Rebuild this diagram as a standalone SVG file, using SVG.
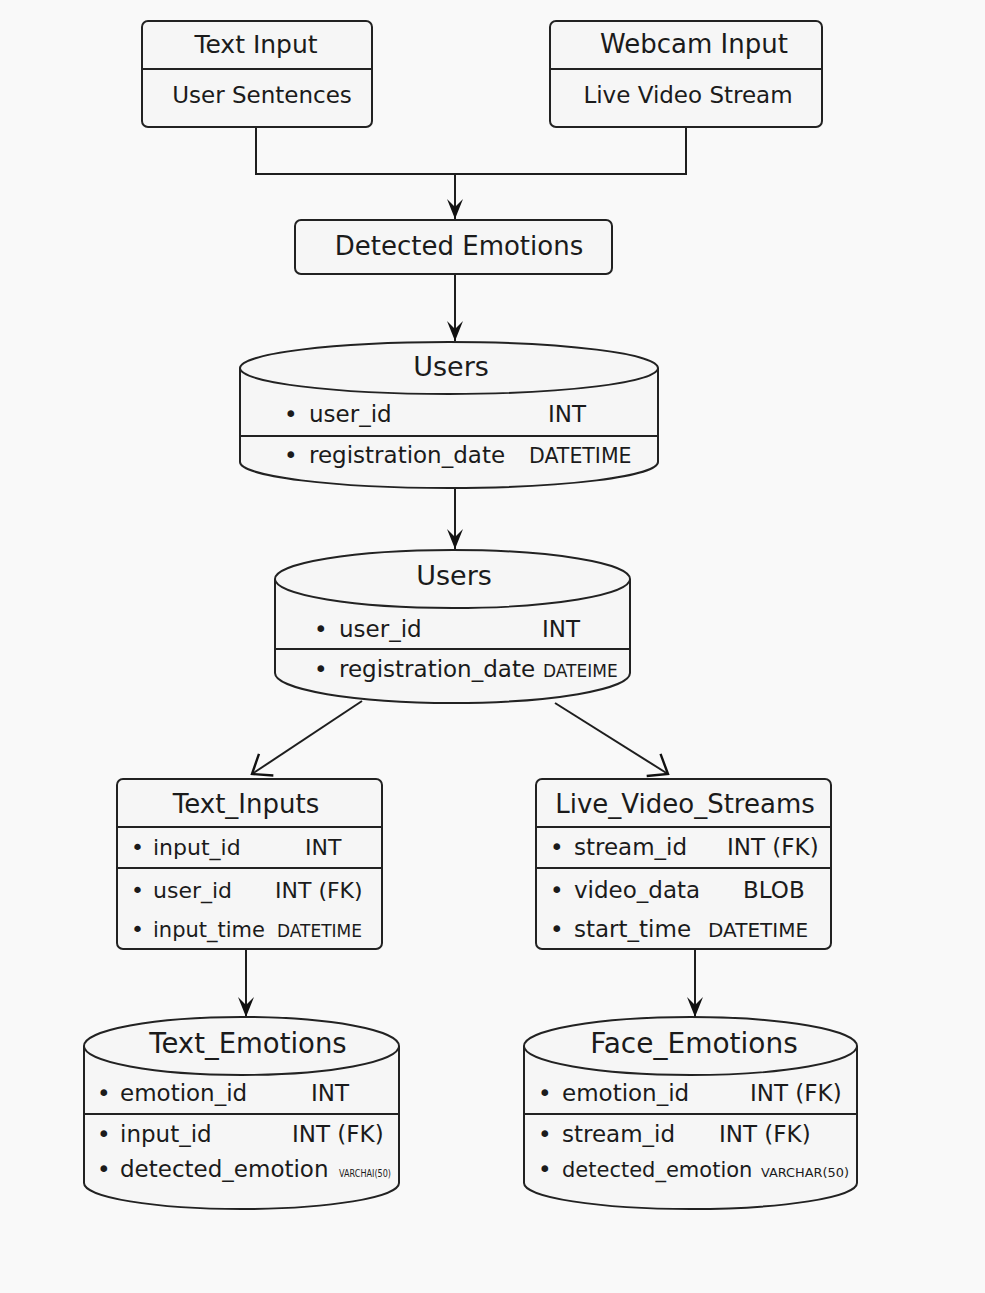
<svg xmlns="http://www.w3.org/2000/svg" width="985" height="1293" viewBox="0 0 985 1293">
  <defs>
    <style>
      text { font-family: "DejaVu Sans", "Liberation Sans", sans-serif; fill: #1b1b1b; }
      .box { fill: #f6f6f6; stroke: #222; stroke-width: 2; }
      .div { stroke: #222; stroke-width: 1.8; fill: none; }
      .edge { stroke: #1e1e1e; stroke-width: 2; fill: none; }
      .mid { text-anchor: middle; }
      .t26 { font-size: 26px; }
      .t23 { font-size: 23px; }
      .t22 { font-size: 22px; }
    </style>
    <!-- filled, notched head for the vertical flow arrows -->
    <marker id="head" viewBox="-22 -10 24 20" refX="0" refY="0" markerWidth="24" markerHeight="20" markerUnits="userSpaceOnUse" orient="auto">
      <path d="M0,0 L-20,-8 L-12,0 L-20,8 Z" fill="#111"/>
    </marker>
    <!-- open head for the diagonal relation arrows -->
    <marker id="open" viewBox="-22 -16 24 32" refX="0" refY="0" markerWidth="24" markerHeight="32" markerUnits="userSpaceOnUse" orient="auto">
      <path d="M-17,-13 L0,0 L-17,13" fill="none" stroke="#111" stroke-width="2.4"/>
    </marker>
  </defs>

  <rect x="0" y="0" width="985" height="1293" fill="#f9f9f9"/>

  <!-- connectors -->
  <g id="connectors">
    <polyline class="edge" points="256,127 256,174 686,174 686,127"/>
    <line class="edge" x1="455" y1="174" x2="455" y2="219" marker-end="url(#head)"/>
    <line class="edge" x1="455" y1="274" x2="455" y2="341" marker-end="url(#head)"/>
    <line class="edge" x1="455" y1="488" x2="455" y2="549" marker-end="url(#head)"/>
    <line class="edge" x1="362" y1="701" x2="252" y2="774" marker-end="url(#open)"/>
    <line class="edge" x1="555" y1="703" x2="668" y2="774" marker-end="url(#open)"/>
    <line class="edge" x1="246" y1="949" x2="246" y2="1017" marker-end="url(#head)"/>
    <line class="edge" x1="695" y1="949" x2="695" y2="1017" marker-end="url(#head)"/>
  </g>

  <!-- source boxes -->
  <g id="text-input">
    <rect class="box" x="142" y="21" width="230" height="106" rx="6"/>
    <line class="div" x1="142" y1="69" x2="372" y2="69"/>
    <text class="mid" x="256" y="53" font-size="25">Text Input</text>
    <text class="mid t23" x="262" y="103">User Sentences</text>
  </g>

  <g id="webcam-input">
    <rect class="box" x="550" y="21" width="272" height="106" rx="6"/>
    <line class="div" x1="550" y1="69" x2="822" y2="69"/>
    <text class="mid t26" x="694" y="53">Webcam Input</text>
    <text class="mid t23" x="688" y="103">Live Video Stream</text>
  </g>

  <g id="detected-emotions">
    <rect class="box" x="295" y="220" width="317" height="54" rx="6"/>
    <text class="mid t26" x="459" y="255">Detected Emotions</text>
  </g>

  <!-- Users store (first) -->
  <g id="users-1">
    <path class="box" d="M240,368 L240,462 A209,26 0 0 0 658,462 L658,368 A209,26 0 0 0 240,368 Z"/>
    <path class="div" d="M240,368 A209,26 0 0 0 658,368"/>
    <line class="div" x1="240" y1="436" x2="658" y2="436"/>
    <text class="mid" x="451" y="376" font-size="27">Users</text>
    <text class="t23" x="284" y="422">•</text>
    <text class="t23" x="309" y="422">user_id</text>
    <text class="t23" x="548" y="422">INT</text>
    <text class="t23" x="284" y="463">•</text>
    <text class="t23" x="309" y="463">registration_date</text>
    <text x="529" y="463" font-size="20.5">DATETIME</text>
  </g>

  <!-- Users store (second) -->
  <g id="users-2">
    <path class="box" d="M275,579 L275,673 A177.5,30 0 0 0 630,673 L630,579 A177.5,29 0 0 0 275,579 Z"/>
    <path class="div" d="M275,579 A177.5,29 0 0 0 630,579"/>
    <line class="div" x1="275" y1="649" x2="630" y2="649"/>
    <text class="mid" x="454" y="585" font-size="27">Users</text>
    <text class="t23" x="314" y="637">•</text>
    <text class="t23" x="339" y="637">user_id</text>
    <text class="t23" x="542" y="637">INT</text>
    <text class="t23" x="314" y="677">•</text>
    <text class="t23" x="339" y="677">registration_date</text>
    <text x="543" y="677" font-size="17">DATEIME</text>
  </g>

  <!-- Text_Inputs table -->
  <g id="text-inputs">
    <rect class="box" x="117" y="779" width="265" height="170" rx="6"/>
    <line class="div" x1="117" y1="827" x2="382" y2="827"/>
    <line class="div" x1="117" y1="868" x2="382" y2="868"/>
    <text class="mid t26" x="246" y="813">Text_Inputs</text>
    <text class="t22" x="131" y="855">•</text>
    <text class="t22" x="153" y="855">input_id</text>
    <text class="t22" x="305" y="855">INT</text>
    <text class="t22" x="131" y="898">•</text>
    <text class="t22" x="153" y="898">user_id</text>
    <text class="t22" x="275" y="898">INT (FK)</text>
    <text class="t22" x="131" y="937">•</text>
    <text x="153" y="937" font-size="21">input_time</text>
    <text x="277" y="937" font-size="17">DATETIME</text>
  </g>

  <!-- Live_Video_Streams table -->
  <g id="live-video-streams">
    <rect class="box" x="536" y="779" width="295" height="170" rx="6"/>
    <line class="div" x1="536" y1="827" x2="831" y2="827"/>
    <line class="div" x1="536" y1="868" x2="831" y2="868"/>
    <text class="mid t26" x="685" y="813">Live_Video_Streams</text>
    <text class="t23" x="550" y="855">•</text>
    <text class="t23" x="574" y="855">stream_id</text>
    <text class="t23" x="727" y="855">INT (FK)</text>
    <text class="t23" x="550" y="898">•</text>
    <text class="t23" x="574" y="898">video_data</text>
    <text class="t23" x="743" y="898">BLOB</text>
    <text class="t23" x="550" y="937">•</text>
    <text class="t23" x="574" y="937">start_time</text>
    <text x="708" y="937" font-size="20">DATETIME</text>
  </g>

  <!-- Text_Emotions store -->
  <g id="text-emotions">
    <path class="box" d="M84,1046 L84,1183 A157.5,26 0 0 0 399,1183 L399,1046 A157.5,29 0 0 0 84,1046 Z"/>
    <path class="div" d="M84,1046 A157.5,29 0 0 0 399,1046"/>
    <line class="div" x1="84" y1="1114" x2="399" y2="1114"/>
    <text class="mid" x="248" y="1053" font-size="27.5">Text_Emotions</text>
    <text class="t23" x="97" y="1101">•</text>
    <text class="t23" x="120" y="1101">emotion_id</text>
    <text class="t23" x="311" y="1101">INT</text>
    <text class="t23" x="97" y="1142">•</text>
    <text class="t23" x="120" y="1142">input_id</text>
    <text class="t23" x="292" y="1142">INT (FK)</text>
    <text class="t23" x="97" y="1177">•</text>
    <text class="t23" x="120" y="1177">detected_emotion</text>
    <text x="339" y="1177" font-size="11" textLength="52" lengthAdjust="spacingAndGlyphs">VARCHAI(50)</text>
  </g>

  <!-- Face_Emotions store -->
  <g id="face-emotions">
    <path class="box" d="M524,1046 L524,1183 A166.5,26 0 0 0 857,1183 L857,1046 A166.5,29 0 0 0 524,1046 Z"/>
    <path class="div" d="M524,1046 A166.5,29 0 0 0 857,1046"/>
    <line class="div" x1="524" y1="1114" x2="857" y2="1114"/>
    <text class="mid" x="694" y="1053" font-size="28">Face_Emotions</text>
    <text class="t23" x="538" y="1101">•</text>
    <text class="t23" x="562" y="1101">emotion_id</text>
    <text class="t23" x="750" y="1101">INT (FK)</text>
    <text class="t23" x="538" y="1142">•</text>
    <text class="t23" x="562" y="1142">stream_id</text>
    <text class="t23" x="719" y="1142">INT (FK)</text>
    <text class="t23" x="538" y="1177">•</text>
    <text x="562" y="1177" font-size="21">detected_emotion</text>
    <text x="761" y="1177" font-size="13" textLength="88" lengthAdjust="spacingAndGlyphs">VARCHAR(50)</text>
  </g>
</svg>
